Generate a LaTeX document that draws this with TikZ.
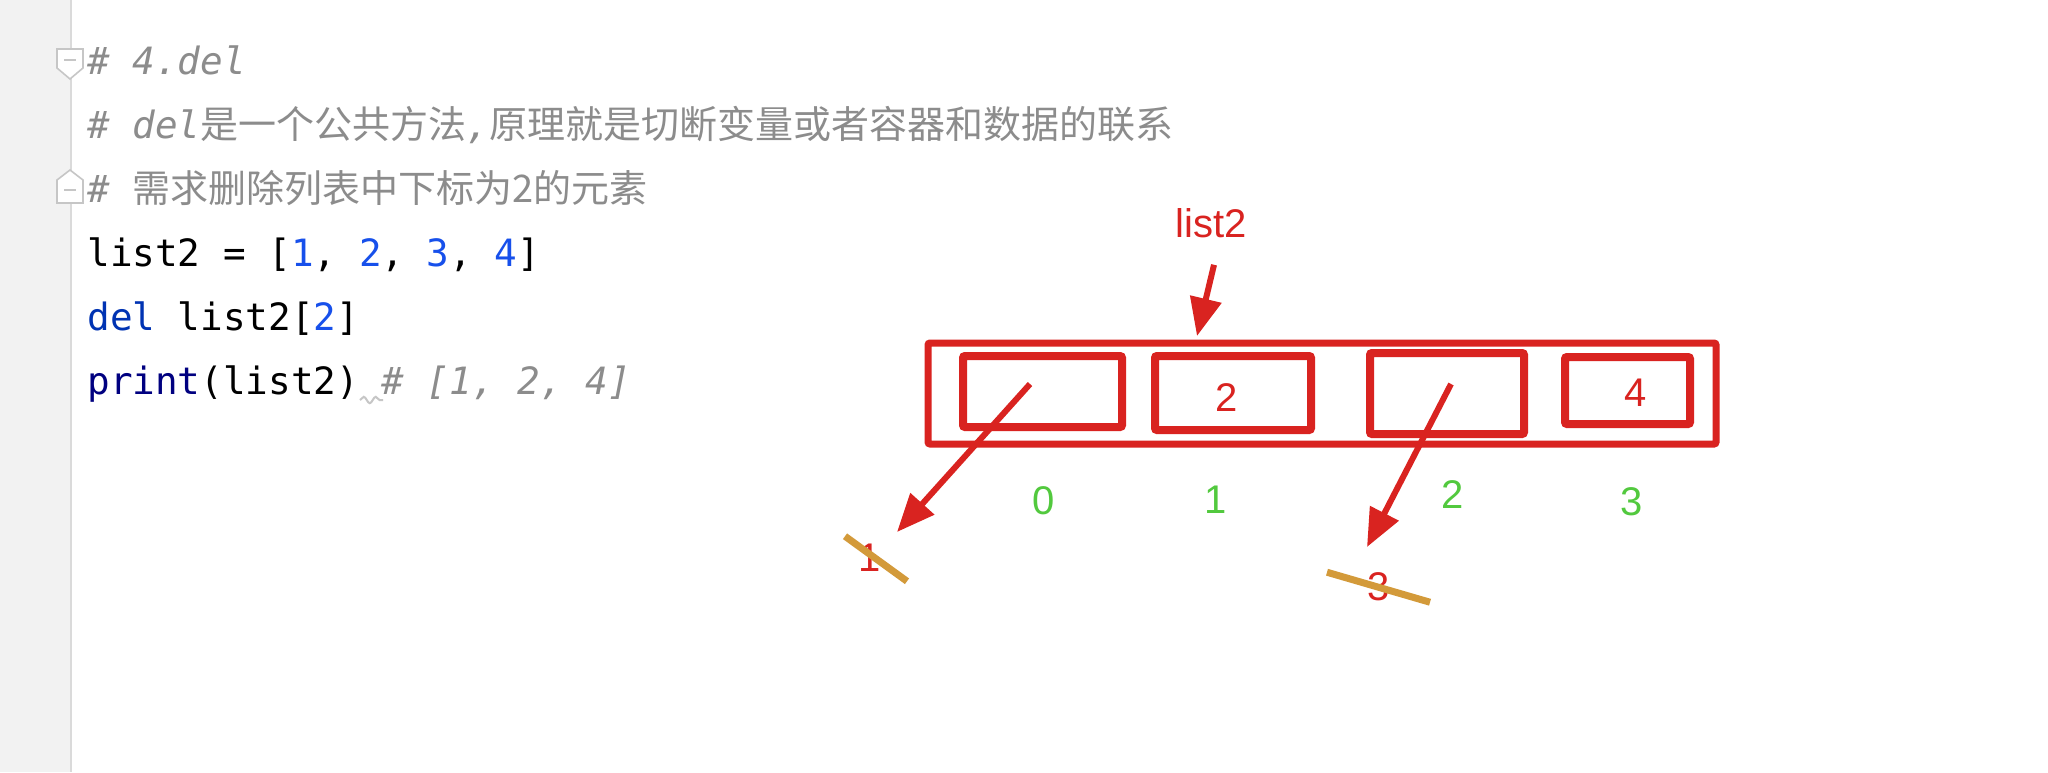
\documentclass[tikz,border=0pt]{standalone}
\usepackage{fontspec}
\setmainfont{Liberation Sans}
\newfontfamily\codefont{DejaVu Sans Mono}
\newfontfamily\cjkfont{Noto Sans CJK SC}
\usetikzlibrary{arrows.meta,decorations.pathmorphing}

\definecolor{inkred}{RGB}{217,35,32}
\definecolor{idxgreen}{RGB}{82,201,62}
\definecolor{strikeorange}{RGB}{211,154,58}
\definecolor{cmtgray}{RGB}{140,140,140}
\definecolor{numblue}{RGB}{23,80,235}
\definecolor{kwblue}{RGB}{0,51,179}
\definecolor{fnnavy}{RGB}{0,0,128}
\definecolor{gutterbg}{RGB}{242,242,242}
\definecolor{gutterline}{RGB}{218,218,218}

\newcommand{\zh}[1]{{\cjkfont\upshape\fontsize{19pt}{22pt}\selectfont #1}}
\newcommand{\cmttext}[1]{{\color{cmtgray}\itshape #1}}

\begin{document}
\begin{tikzpicture}[x=0.5pt,y=-0.5pt,
	code/.style={anchor=base west,inner sep=0,font={\codefont\fontsize{18.8pt}{22pt}\selectfont}},
	lbl/.style={anchor=base,inner sep=0,font={\fontsize{20pt}{24pt}\selectfont}},
	cell/.style={draw=inkred,line width=4pt,rounded corners=1pt,inner sep=0},
	ptr/.style={inkred,line width=3pt,-{Triangle[length=19pt,width=15.5pt]}},
	strike/.style={strikeorange,line width=3.5pt},
	fold/.style={draw=gray!45,fill=white,line width=0.8pt}]
			\fill[white] (0,0) rectangle (2048,772);
			\useasboundingbox (0,0) rectangle (2048,772);
			\fill[gutterbg] (0,0) rectangle (71,772);
			\draw[gutterline,line width=1pt] (71,0) -- (71,772);
			\draw[fold] (57,49) -- (83,49) -- (83,68) -- (70,79) -- (57,68) -- cycle;
			\draw[gray!45,line width=0.8pt] (64,60) -- (76,60);
			\draw[fold] (57,203) -- (83,203) -- (83,180) -- (70,170) -- (57,180) -- cycle;
			\draw[gray!45,line width=0.8pt] (64,190) -- (76,190);
			\node[code] (l1) at (87,74) {\cmttext{\# 4.del}};
			\node[code] (l2) at (87,138) {\cmttext{\# del\zh{是一个公共方法},\zh{原理就是切断变量或者容器和数据的联系}}};
			\node[code] (l3) at (87,202) {\cmttext{\# \zh{需求删除列表中下标为2的元素}}};
			\node[code] (l4) at (87,266) {list2 = [\textcolor{numblue}{1}, \textcolor{numblue}{2}, \textcolor{numblue}{3}, \textcolor{numblue}{4}]};
			\node[code] (l5) at (87,330) {\textcolor{kwblue}{del} list2[\textcolor{numblue}{2}]};
			\node[code] (l6) at (87,394) {\textcolor{fnnavy}{print}(list2) \cmttext{\# [1, 2, 4]}};
			\draw[gray!45,line width=1pt,decorate,decoration={snake,amplitude=1.6pt,segment length=6pt}] (360,400) -- (383,400);
			% the list
			\node[cell,line width=3.5pt,minimum width=394pt,minimum height=50.5pt] (arr) at (1322,393.5) {};
			\node[cell,minimum width=79.5pt,minimum height=35.5pt] (c0) at (1042.5,391.5) {};
			\node[cell,minimum width=78pt,minimum height=37pt] (c1) at (1233,393) {};
			\node[cell,minimum width=77pt,minimum height=40.5pt] (c2) at (1447,393.5) {};
			\node[cell,minimum width=62.5pt,minimum height=33.5pt] (c3) at (1627.5,390.5) {};
			\node[lbl,text=inkred] (v1) at (1227,411.5) {2};
			\node[lbl,text=inkred] (v3) at (1636,406) {4};
			\foreach \i/\x/\y in {0/1044/514.5,1/1216/513,2/1453/508,3/1632/515}
			\node[lbl,text=idxgreen] (i\i) at (\x,\y) {\i};
			\node[lbl,text=inkred] (name) at (1211.5,237) {list2};
			\draw[ptr] ([shift={(2.5,27)}]name.south) -- ([shift={(-125,-3.5)}]arr.north);
			% removed values
			\node[lbl,text=inkred] (old1) at (870,571) {1};
			\node[lbl,text=inkred] (old3) at (1379,600) {3};
			\coordinate (gone1) at (897,532);
			\coordinate (gone3) at (1367,547);
			\draw[ptr] ([shift={(-12.5,-7.5)}]c0.center) -- (gone1);
			\draw[ptr] ([shift={(4,-9.5)}]c2.center) -- (gone3);
			\draw[strike] ([shift={(-25,-21)}]old1.center) -- ([shift={(37,24)}]old1.center);
			\draw[strike] ([shift={(-52,-14)}]old3.center) -- ([shift={(51,16)}]old3.center);
\end{tikzpicture}
\end{document}
